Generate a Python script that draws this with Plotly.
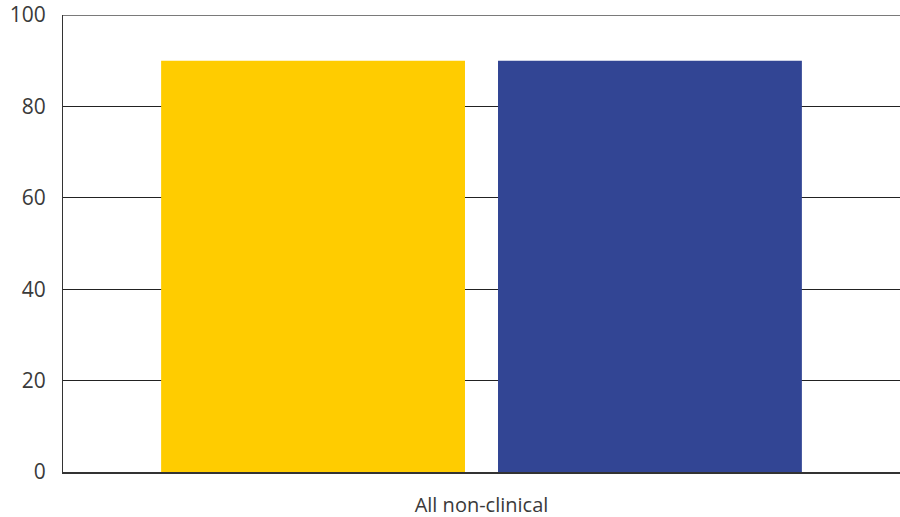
import plotly.graph_objects as go

categories = ["All non-clinical"]
series_a = [90]
series_b = [90]
y_ticks = [0, 20, 40, 60, 80, 100]
y_max = 100

fig = go.Figure()
fig.add_trace(go.Bar(x=categories, y=series_a, marker=dict(color="#FFCC00", line=dict(width=0)), showlegend=False))
fig.add_trace(go.Bar(x=categories, y=series_b, marker=dict(color="#324594", line=dict(width=0)), showlegend=False))

# top border line at the axis maximum
fig.add_shape(type="line", xref="paper", x0=0, x1=1, yref="y", y0=y_max, y1=y_max,
              line=dict(color="#7a7a7a", width=2), layer="above")

fig.update_layout(
    width=900, height=517,
    margin=dict(l=63, r=0, t=15, b=45),
    paper_bgcolor="white", plot_bgcolor="white",
    barmode="group", bargap=0.195, bargroupgap=0.098,
    font=dict(family="Open Sans, Noto Sans, sans-serif", color="#3a3a3a", size=19),
)
fig.update_yaxes(
    range=[0, y_max], tickvals=y_ticks, showgrid=True, gridcolor="#222222", gridwidth=1,
    showline=True, linecolor="#333333", linewidth=1, zeroline=False,
    ticks="", ticklabelstandoff=12, tickfont=dict(size=21),
)
fig.update_xaxes(
    showline=True, linecolor="#333333", linewidth=2, ticks="",
    ticklabelstandoff=14, tickfont=dict(size=20),
)
fig.write_html("out.html")
